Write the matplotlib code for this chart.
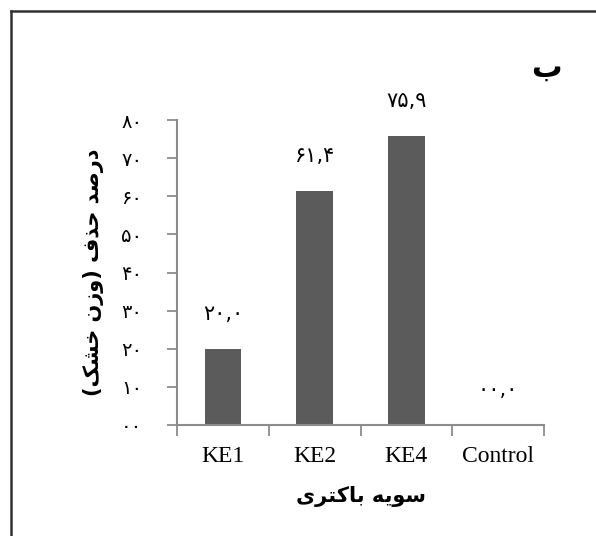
import numpy as np
import matplotlib
matplotlib.use("Agg")
from matplotlib import pyplot as plt
from matplotlib.lines import Line2D

# data
categories = ["KE1", "KE2", "KE4", "Control"]
removal = [20.0, 61.4, 75.9, 0.0]
bar_labels = ["۲۰,۰", "۶۱,۴", "۷۵,۹", "۰۰,۰"]
y_ticks = [0, 10, 20, 30, 40, 50, 60, 70, 80]
y_tick_labels = ["۰۰", "۱۰", "۲۰", "۳۰", "۴۰", "۵۰", "۶۰", "۷۰", "۸۰"]
x_title = "سویه باکتری"
y_title = "درصد حذف (وزن خشک)"
panel = "ب"

# presentation forms: iso, final, initial, medial (None = no forward joining)
FORMS = {
    "ا": ("\uFE8D", "\uFE8E", None, None),
    "ب": ("\uFE8F", "\uFE90", "\uFE91", "\uFE92"),
    "ت": ("\uFE95", "\uFE96", "\uFE97", "\uFE98"),
    "ح": ("\uFEA1", "\uFEA2", "\uFEA3", "\uFEA4"),
    "خ": ("\uFEA5", "\uFEA6", "\uFEA7", "\uFEA8"),
    "د": ("\uFEA9", "\uFEAA", None, None),
    "ذ": ("\uFEAB", "\uFEAC", None, None),
    "ر": ("\uFEAD", "\uFEAE", None, None),
    "ز": ("\uFEAF", "\uFEB0", None, None),
    "س": ("\uFEB1", "\uFEB2", "\uFEB3", "\uFEB4"),
    "ش": ("\uFEB5", "\uFEB6", "\uFEB7", "\uFEB8"),
    "ص": ("\uFEB9", "\uFEBA", "\uFEBB", "\uFEBC"),
    "ف": ("\uFED1", "\uFED2", "\uFED3", "\uFED4"),
    "ن": ("\uFEE5", "\uFEE6", "\uFEE7", "\uFEE8"),
    "ه": ("\uFEE9", "\uFEEA", "\uFEEB", "\uFEEC"),
    "و": ("\uFEED", "\uFEEE", None, None),
    "ک": ("\uFB8E", "\uFB8F", "\uFB90", "\uFB91"),
    "ی": ("\uFBFC", "\uFBFD", "\uFBFE", "\uFBFF"),
}
MIRROR = {"(": ")", ")": "("}


def shape(text):
    out = []
    for i, ch in enumerate(text):
        if ch not in FORMS:
            out.append(MIRROR.get(ch, ch))
            continue
        prev = text[i - 1] if i > 0 else ""
        nxt = text[i + 1] if i + 1 < len(text) else ""
        join_prev = prev in FORMS and FORMS[prev][2] is not None
        join_next = nxt in FORMS and FORMS[ch][2] is not None
        iso, fin, ini, med = FORMS[ch]
        if join_prev and join_next:
            out.append(med)
        elif join_prev:
            out.append(fin)
        elif join_next:
            out.append(ini)
        else:
            out.append(iso)
    return "".join(out[::-1])


fa_font = ["DejaVu Sans"]
bar_color = "#5b5b5b"
axis_color = "#8c8c8c"

fig = plt.figure(figsize=(5.96, 5.36), dpi=100)
ax = fig.add_axes([177 / 596, 1 - 425 / 536, 367 / 596, 305 / 536])

x = np.arange(len(categories))
ax.bar(x, removal, width=0.4, color=bar_color, zorder=2)

ax.set_xlim(-0.5, len(categories) - 0.5)
ax.set_ylim(0, 80)
ax.set_yticks(y_ticks)
ax.set_yticklabels(y_tick_labels, family=fa_font, fontsize=14)
ax.set_xticks(x)
ax.set_xticklabels(categories, family="Liberation Serif", fontsize=17)
ax.set_xticks(np.arange(len(categories) + 1) - 0.5, minor=True)
ax.tick_params(axis="x", which="major", length=0, pad=15)
ax.tick_params(axis="x", which="minor", length=8, width=1.3, color=axis_color, direction="out")
ax.tick_params(axis="y", length=7, width=1.3, color=axis_color, direction="out", pad=18)

for s in ["top", "right"]:
    ax.spines[s].set_visible(False)
for s in ["left", "bottom"]:
    ax.spines[s].set_color(axis_color)
    ax.spines[s].set_linewidth(1.5)

for xi, v, lab in zip(x, removal, bar_labels):
    ax.annotate(lab, (xi, v), xytext=(0, 25), textcoords="offset pixels",
                ha="center", va="bottom", family=fa_font, fontsize=15)

ax.set_xlabel(shape(x_title), family=fa_font, fontsize=15, fontweight="bold", labelpad=14)
ax.set_ylabel(shape(y_title), family=fa_font, fontsize=15, fontweight="bold", labelpad=12)

fig.text(546 / 596, 1 - 68 / 536, shape(panel), family=fa_font, fontsize=22,
         fontweight="bold", ha="center", va="center")

# frame lines (top and left)
fig.add_artist(Line2D([11 / 596, 1], [1 - 11 / 536, 1 - 11 / 536], color="#333333", lw=1.8))
fig.add_artist(Line2D([11 / 596, 11 / 596], [0, 1 - 11 / 536], color="#333333", lw=1.8))

fig.savefig("out.png", dpi=100)
